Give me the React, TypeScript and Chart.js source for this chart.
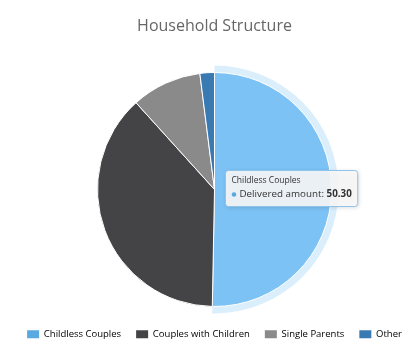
import React, { useEffect, useRef } from "react";
import { Chart, registerables } from "chart.js";

Chart.register(...registerables);

const chartTitle = "Household Structure";
const categories = ["Childless Couples", "Couples with Children", "Single Parents", "Other"];
const values = [50.3, 38.0, 9.7, 2.0];
const seriesName = "Delivered amount";
const hoveredIndex = 0;

const baseColors = ["#5aa9e0", "#444446", "#8a8a8a", "#3a7ab3"];
const hoverColor = "#7cc2f4";
const FONT = "'Open Sans', 'DejaVu Sans', sans-serif";

const haloPlugin = {
  id: "halo",
  beforeDatasetsDraw(chart: any) {
    const arc: any = chart.getDatasetMeta(0).data[hoveredIndex];
    if (!arc) return;
    const { x, y, startAngle, endAngle, outerRadius } = arc.getProps(
      ["x", "y", "startAngle", "endAngle", "outerRadius"],
      true
    );
    const ctx = chart.ctx;
    ctx.save();
    ctx.beginPath();
    ctx.arc(x, y, outerRadius + 7, startAngle, endAngle);
    ctx.arc(x, y, outerRadius - 1, endAngle, startAngle, true);
    ctx.closePath();
    ctx.fillStyle = "rgba(124,194,244,0.28)";
    ctx.fill();
    ctx.restore();
  },
};

const tooltipPlugin = {
  id: "fixedTooltip",
  afterDraw(chart: any) {
    const arc: any = chart.getDatasetMeta(0).data[hoveredIndex];
    if (!arc) return;
    const { x, y } = arc.getProps(["x", "y"], true);
    const ctx = chart.ctx;
    const titleText = categories[hoveredIndex];
    const label = seriesName + ": ";
    const valueText = values[hoveredIndex].toFixed(2);
    ctx.save();
    ctx.font = `8.5px ${FONT}`;
    const tw = ctx.measureText(titleText).width;
    ctx.font = `9.8px ${FONT}`;
    const lw = ctx.measureText(label).width;
    ctx.font = `bold 9.8px ${FONT}`;
    const vw = ctx.measureText(valueText).width;
    const pad = 6;
    const bodyW = 8 + lw + vw;
    const w = Math.max(tw, bodyW) + pad * 2;
    const h = 36;
    const bx = x + 11;
    const by = y - 19;
    ctx.shadowColor = "rgba(0,0,0,0.18)";
    ctx.shadowBlur = 4;
    ctx.shadowOffsetX = 1;
    ctx.shadowOffsetY = 1;
    ctx.beginPath();
    ctx.roundRect(bx, by, w, h, 3);
    ctx.fillStyle = "rgba(248,248,248,0.9)";
    ctx.fill();
    ctx.shadowColor = "transparent";
    ctx.lineWidth = 1;
    ctx.strokeStyle = "#8fc3ea";
    ctx.stroke();
    ctx.textBaseline = "middle";
    ctx.textAlign = "left";
    ctx.fillStyle = "#333";
    ctx.font = `8.5px ${FONT}`;
    ctx.fillText(titleText, bx + pad, by + 10);
    ctx.beginPath();
    ctx.arc(bx + pad + 2.5, by + 24, 2.3, 0, Math.PI * 2);
    ctx.fillStyle = baseColors[hoveredIndex];
    ctx.fill();
    ctx.fillStyle = "#333";
    ctx.font = `9.8px ${FONT}`;
    ctx.fillText(label, bx + pad + 8, by + 24);
    ctx.font = `bold 9.8px ${FONT}`;
    ctx.fillText(valueText, bx + pad + 8 + lw, by + 24);
    ctx.restore();
  },
};

export default function App() {
  const ref = useRef<HTMLCanvasElement>(null);
  useEffect(() => {
    if (!ref.current) return;
    const chart = new Chart(ref.current, {
      type: "pie",
      data: {
        labels: categories,
        datasets: [
          {
            data: values,
            backgroundColor: categories.map((_, i) => (i === hoveredIndex ? hoverColor : baseColors[i])),
            borderColor: "#ffffff",
            borderWidth: 1,
            hoverOffset: 0,
            radius: 117,
          } as any,
        ],
      },
      options: {
        animation: false,
        responsive: false,
        events: [],
        layout: { padding: { left: 0, right: 0, top: 0, bottom: 4 } },
        plugins: {
          title: {
            display: true,
            text: chartTitle,
            color: "#666",
            font: { family: FONT, size: 16, weight: "normal" as any },
            padding: { top: 17, bottom: 28.3 },
          },
          legend: {
            position: "bottom",
            labels: {
              boxWidth: 12,
              boxHeight: 8,
              padding: 15,
              color: "#333",
              font: { family: FONT, size: 9.5 },
              generateLabels: () =>
                categories.map((c, i) => ({
                  text: c,
                  fillStyle: baseColors[i],
                  strokeStyle: baseColors[i],
                  lineWidth: 0,
                  hidden: false,
                  index: i,
                })),
            },
          },
          tooltip: { enabled: false },
        },
      },
      plugins: [haloPlugin, tooltipPlugin],
    });
    return () => chart.destroy();
  }, []);
  return (
    <div
      style={{
        position: "fixed",
        left: 0,
        top: 0,
        width: 413,
        height: 353,
        overflow: "hidden",
        background: "#fff",
      }}
    >
      <canvas ref={ref} width={413} height={353} style={{ display: "block", marginLeft: 8 }} />
    </div>
  );
}
